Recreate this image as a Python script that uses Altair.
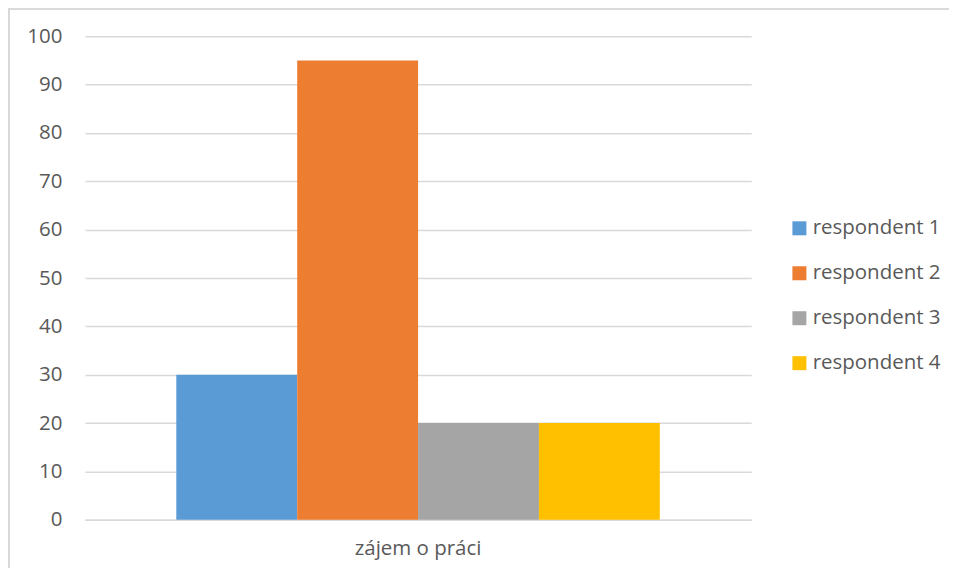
import altair as alt
import pandas as pd

categories = ["zájem o práci"]
series = ["respondent 1", "respondent 2", "respondent 3", "respondent 4"]
values = [30, 95, 20, 20]
colors = ["#5B9BD5", "#ED7D31", "#A5A5A5", "#FFC000"]
y_ticks = [0, 10, 20, 30, 40, 50, 60, 70, 80, 90, 100]

df = pd.DataFrame({
    "kategorie": [categories[0]] * len(series),
    "respondent": series,
    "hodnota": values,
})

FONT = "Open Sans"
TXT = "#595959"
FS = 20.5

bars = alt.Chart(df).mark_bar().encode(
    x=alt.X("kategorie:N",
            scale=alt.Scale(paddingOuter=0.189, paddingInner=0),
            axis=alt.Axis(title=None, labelAngle=0, ticks=False, domain=True,
                          domainColor="#d9d9d9", domainWidth=1.5,
                          labelFontSize=FS, labelColor=TXT, labelFont=FONT,
                          labelPadding=19)),
    xOffset=alt.XOffset("respondent:N", sort=series,
                        scale=alt.Scale(paddingInner=0, paddingOuter=0)),
    y=alt.Y("hodnota:Q",
            scale=alt.Scale(domain=[0, 100], nice=False),
            axis=alt.Axis(title=None, values=y_ticks, ticks=False, domain=False,
                          grid=True, gridColor="#d9d9d9", gridWidth=1.5,
                          labelFontSize=FS, labelColor=TXT, labelFont=FONT,
                          labelPadding=23)),
    color=alt.Color("respondent:N", sort=series,
                    scale=alt.Scale(domain=series, range=colors),
                    legend=alt.Legend(title=None, orient="none",
                                      legendX=705, legendY=182,
                                      symbolType="square", symbolSize=196,
                                      symbolStrokeWidth=0,
                                      labelFontSize=FS, labelColor=TXT,
                                      labelFont=FONT, rowPadding=24,
                                      labelOffset=3)),
)

frame_top = alt.Chart(df).mark_rule(color="#d9d9d9", strokeWidth=1.5).encode(
    x=alt.value(-77), x2=alt.value(900), y=alt.value(-27)
)
frame_left = alt.Chart(df).mark_rule(color="#d9d9d9", strokeWidth=1.5).encode(
    x=alt.value(-76), y=alt.value(-28), y2=alt.value(600)
)

chart = alt.layer(bars, frame_top, frame_left).properties(
    width=667, height=484,
    padding={"left": 77, "top": 28, "right": 198, "bottom": 48},
    autosize=alt.AutoSizeParams(type="none"),
).configure_view(stroke=None)

chart.save("out.html", embed_options={"renderer": "svg", "actions": False})
